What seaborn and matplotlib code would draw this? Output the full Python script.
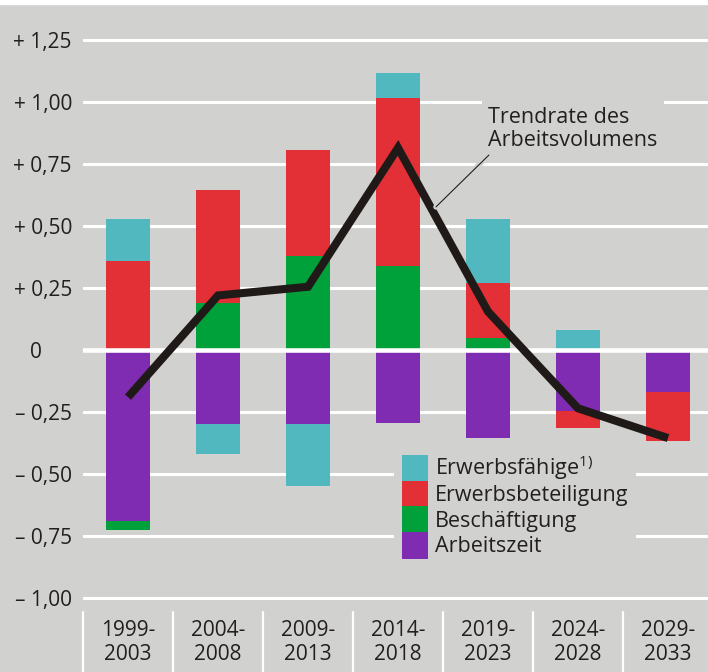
import numpy as np
import seaborn as sns
import matplotlib.pyplot as plt
from matplotlib.patches import Patch, Rectangle
from matplotlib.transforms import ScaledTranslation
import matplotlib.patheffects as pe

# Beitraege zur Trendrate des Arbeitsvolumens (Prozentpunkte)
zeitraum = ["1999-\n2003", "2004-\n2008", "2009-\n2013", "2014-\n2018",
            "2019-\n2023", "2024-\n2028", "2029-\n2033"]
erwerbsfaehige = [0.17, -0.12, -0.25, 0.10, 0.26, 0.08, 0.0]
erwerbsbeteiligung = [0.36, 0.455, 0.425, 0.675, 0.22, -0.07, -0.195]
beschaeftigung = [-0.035, 0.19, 0.38, 0.34, 0.05, 0.0, 0.0]
arbeitszeit = [-0.69, -0.30, -0.30, -0.295, -0.355, -0.245, -0.17]
trendrate = [-0.19, 0.22, 0.255, 0.815, 0.155, -0.235, -0.355]

ytick_werte = [1.25, 1.0, 0.75, 0.5, 0.25, 0, -0.25, -0.5, -0.75, -1.0]
ytick_text = ["+ 1,25", "+ 1,00", "+ 0,75", "+ 0,50", "+ 0,25", "0",
              "\u2013 0,25", "\u2013 0,50", "\u2013 0,75", "\u2013 1,00"]

BG = "#d1d1d0"
TXT = "#231f20"
CYAN = "#52b8bf"
RED = "#e33036"
GREEN = "#00a03a"
PURPLE = "#7f2bb2"

sns.set_theme(style="darkgrid", rc={"axes.facecolor": BG, "figure.facecolor": BG,
                                     "grid.color": "white", "grid.linewidth": 2.2})
plt.rcParams['font.family'] = ['Open Sans', 'DejaVu Sans']

fig = plt.figure(figsize=(7.08, 6.72), dpi=100)
ax = fig.add_axes([83 / 708, 67 / 672, 625 / 708, 601 / 672])
fig.add_artist(Rectangle((0, 1 - 4 / 672), 1, 4 / 672, transform=fig.transFigure,
                         color="white", zorder=0))

# positive Seite: Beschaeftigung, Erwerbsbeteiligung, Erwerbsfaehige
# negative Seite: Arbeitszeit zuerst, dann der Rest
pos_order = [(beschaeftigung, GREEN), (erwerbsbeteiligung, RED),
             (erwerbsfaehige, CYAN), (arbeitszeit, PURPLE)]
neg_order = [(arbeitszeit, PURPLE), (erwerbsbeteiligung, RED),
             (beschaeftigung, GREEN), (erwerbsfaehige, CYAN)]

base = np.zeros(len(zeitraum))
for vals, col in pos_order:
    v = np.clip(np.array(vals), 0, None)
    sns.barplot(x=zeitraum, y=v, bottom=base, color=col, saturation=1, width=0.49,
                errorbar=None, linewidth=0, zorder=2, ax=ax)
    base = base + v

base = np.zeros(len(zeitraum))
for vals, col in neg_order:
    v = np.clip(np.array(vals), None, 0)
    sns.barplot(x=zeitraum, y=v, bottom=base, color=col, saturation=1, width=0.49,
                errorbar=None, linewidth=0, zorder=2, ax=ax)
    base = base + v

sns.lineplot(x=np.arange(len(zeitraum)), y=trendrate, color="#1f1a17", linewidth=5.8,
             ax=ax, zorder=4, solid_joinstyle="miter", solid_capstyle="butt")

ax.axhline(0, color="white", linewidth=3.3, zorder=3)

ax.set_xlim(-0.5, (708 - 83) / 90 - 0.5)
ax.set_ylim(-1.028, 1.395)
ax.set_yticks(ytick_werte)
ax.set_yticklabels(ytick_text)
ax.set_xticks(range(len(zeitraum)))
ax.set_xticklabels(zeitraum)
ax.xaxis.grid(False)
ax.yaxis.grid(True)
ax.set_axisbelow(True)
ax.set_xlabel("")
ax.set_ylabel("")
ax.set_frame_on(False)
ax.tick_params(axis="y", length=0, pad=8, labelsize=15, labelcolor=TXT)
ax.tick_params(axis="x", length=0, pad=11, labelsize=15, labelcolor=TXT)

# "0" steht unter der Einerstelle
for lbl in ax.get_yticklabels():
    if lbl.get_text() == "0":
        lbl.set_transform(lbl.get_transform() + ScaledTranslation(-0.30, 0, fig.dpi_scale_trans))

# Trennstriche zwischen den Zeitraeumen
for b in np.arange(-0.5, len(zeitraum) - 1, 1.0):
    ax.plot([b, b], [-0.012, -0.12], transform=ax.get_xaxis_transform(),
            color="white", linewidth=1.6, clip_on=False)

# Beschriftung der Linie
ax.text(4.0, 0.98, "Trendrate des\nArbeitsvolumens", fontsize=15.5, color=TXT,
        va="top", ha="left", linespacing=1.12, zorder=5,
        bbox=dict(boxstyle="square,pad=0.3", facecolor=BG, edgecolor="none"))
ax.plot([3.422, 4.01], [0.577, 0.786], color=TXT, linewidth=0.8, zorder=5,
        path_effects=[pe.withStroke(linewidth=4, foreground=BG)])

handles = [Patch(facecolor=CYAN, edgecolor="none"),
           Patch(facecolor=RED, edgecolor="none"),
           Patch(facecolor=GREEN, edgecolor="none"),
           Patch(facecolor=PURPLE, edgecolor="none")]
labels = ["Erwerbsf\u00e4hige$^{\\mathregular{1)}}$", "Erwerbsbeteiligung",
          "Besch\u00e4ftigung", "Arbeitszeit"]
leg = fig.legend(handles, labels, loc="upper left", bbox_to_anchor=(394 / 708, 1 - 446 / 672),
                 fontsize=15.5, frameon=True, facecolor=BG, edgecolor="none", framealpha=1,
                 fancybox=False, borderpad=0.35, borderaxespad=0, labelspacing=-0.07,
                 handlelength=1.21, handleheight=1.552, handletextpad=0.33)
for t in leg.get_texts():
    t.set_color(TXT)

fig.savefig("out.png", dpi=100, facecolor=BG)
